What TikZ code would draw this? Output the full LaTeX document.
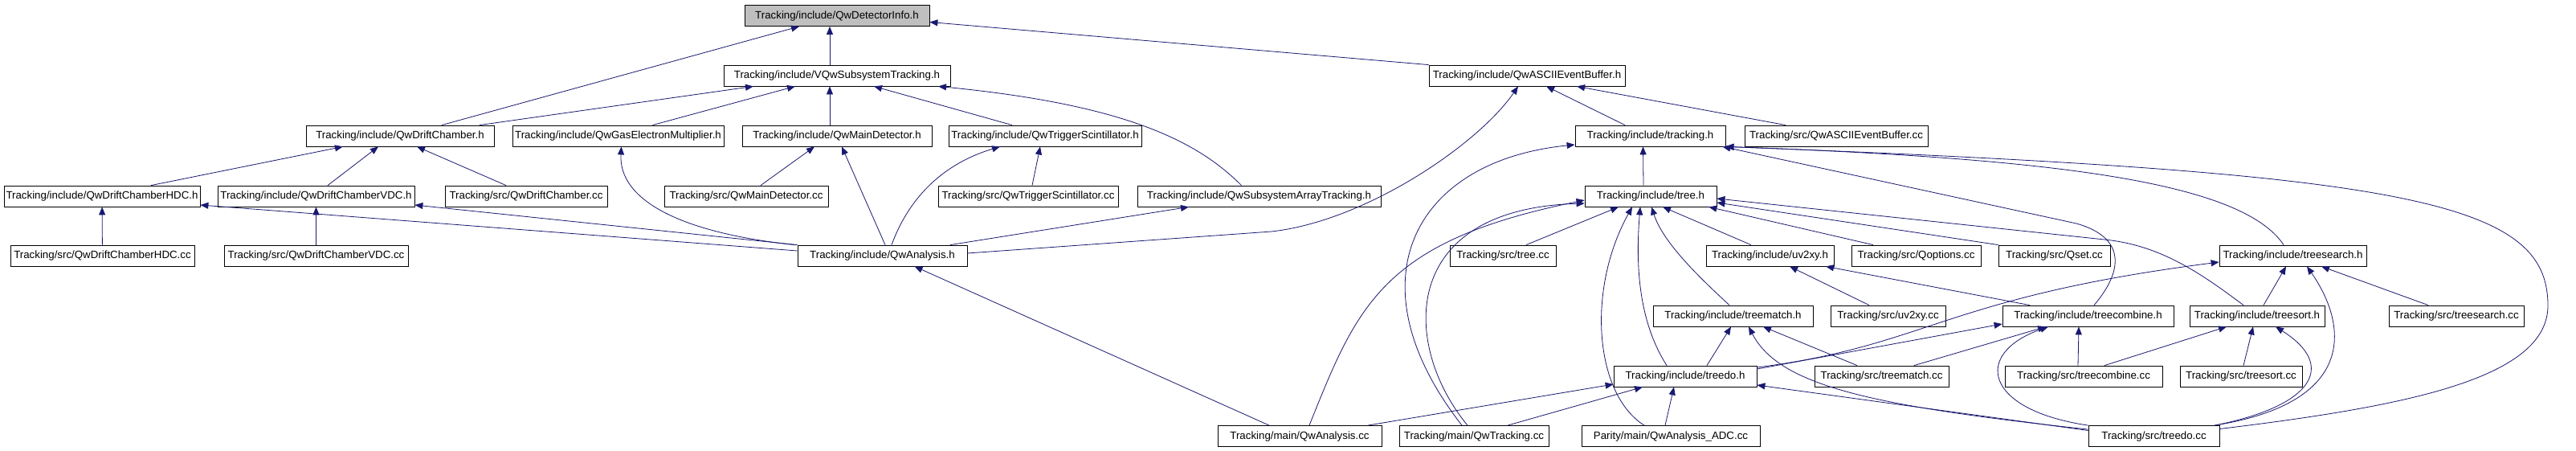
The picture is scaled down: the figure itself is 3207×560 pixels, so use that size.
\documentclass[tikz,border=0pt]{standalone}
\usepackage{fontspec}
\setmainfont{Liberation Sans}
\usepackage{tikz}
\usetikzlibrary{arrows.meta}
\definecolor{edgeNavy}{HTML}{191970}
\definecolor{rootGrey}{HTML}{BFBFBF}
\tikzset{
  file/.style = {draw=black, fill=white, line width=0.8pt, font=\fontsize{13.3}{15}\selectfont,
                 inner xsep=2.5pt, inner ysep=0pt, minimum height=26pt,
                 text height=9.5pt, text depth=2.5pt},
  root/.style = {fill=rootGrey},
  dep/.style  = {-{Triangle[length=10pt, width=8pt]}, draw=edgeNavy, line width=0.8pt}
}
\begin{document}
\begin{tikzpicture}[x=1pt, y=-1pt]
  \useasboundingbox[fill=white] (0,0) rectangle (3207,560);
  % headers and sources, one row per level
  \node[file, root, minimum width=230pt] (di) at (1042,19.5) {Tracking/include/QwDetectorInfo.h};
  \node[file, minimum width=282pt] (vst) at (1042,94) {Tracking/include/VQwSubsystemTracking.h};
  \node[file, minimum width=244pt] (aeb) at (1901,94) {Tracking/include/QwASCIIEventBuffer.h};
  \node[file, minimum width=234pt] (dc) at (498,169) {Tracking/include/QwDriftChamber.h};
  \node[file, minimum width=263pt] (gem) at (769.5,169) {Tracking/include/QwGasElectronMultiplier.h};
  \node[file, minimum width=236pt] (md) at (1042,169) {Tracking/include/QwMainDetector.h};
  \node[file, minimum width=240pt] (ts) at (1301,169) {Tracking/include/QwTriggerScintillator.h};
  \node[file, minimum width=187pt] (tr) at (2054.5,169) {Tracking/include/tracking.h};
  \node[file, minimum width=228pt] (aebcc) at (2286,169) {Tracking/src/QwASCIIEventBuffer.cc};
  \node[file, minimum width=244pt] (hdc) at (127,244) {Tracking/include/QwDriftChamberHDC.h};
  \node[file, minimum width=245pt] (vdc) at (393.5,244) {Tracking/include/QwDriftChamberVDC.h};
  \node[file, minimum width=202pt] (dccc) at (655,244) {Tracking/src/QwDriftChamber.cc};
  \node[file, minimum width=204pt] (mdcc) at (929,244) {Tracking/src/QwMainDetector.cc};
  \node[file, minimum width=224pt] (tscc) at (1280,244) {Tracking/src/QwTriggerScintillator.cc};
  \node[file, minimum width=303pt] (sat) at (1567.5,244) {Tracking/include/QwSubsystemArrayTracking.h};
  \node[file, minimum width=164pt] (tree) at (2055,244) {Tracking/include/tree.h};
  \node[file, minimum width=229pt] (hdccc) at (127.5,318) {Tracking/src/QwDriftChamberHDC.cc};
  \node[file, minimum width=229pt] (vdccc) at (393.5,318) {Tracking/src/QwDriftChamberVDC.cc};
  \node[file, minimum width=211pt] (qa) at (1098.5,318) {Tracking/include/QwAnalysis.h};
  \node[file, minimum width=132pt] (treecc) at (1871,318) {Tracking/src/tree.cc};
  \node[file, minimum width=159pt] (uv) at (2203.5,318) {Tracking/include/uv2xy.h};
  \node[file, minimum width=161pt] (qopt) at (2385.5,318) {Tracking/src/Qoptions.cc};
  \node[file, minimum width=139pt] (qset) at (2557.5,318) {Tracking/src/Qset.cc};
  \node[file, minimum width=183pt] (tsearch) at (2854.5,318) {Tracking/include/treesearch.h};
  \node[file, minimum width=199pt] (tmatch) at (2157.5,393) {Tracking/include/treematch.h};
  \node[file, minimum width=143pt] (uvcc) at (2350.5,393) {Tracking/src/uv2xy.cc};
  \node[file, minimum width=213pt] (tcomb) at (2599.5,393) {Tracking/include/treecombine.h};
  \node[file, minimum width=168pt] (tsort) at (2810,393) {Tracking/include/treesort.h};
  \node[file, minimum width=168pt] (tsearchcc) at (3058,393) {Tracking/src/treesearch.cc};
  \node[file, minimum width=178pt] (tdo) at (2098,468) {Tracking/include/treedo.h};
  \node[file, minimum width=167pt] (tmcc) at (2342.5,468) {Tracking/src/treematch.cc};
  \node[file, minimum width=196pt] (tccc) at (2594,468) {Tracking/src/treecombine.cc};
  \node[file, minimum width=152pt] (tsortcc) at (2790,468) {Tracking/src/treesort.cc};
  \node[file, minimum width=204pt] (qacc) at (1618,542.5) {Tracking/main/QwAnalysis.cc};
  \node[file, minimum width=186pt] (qwtrk) at (1835,542.5) {Tracking/main/QwTracking.cc};
  \node[file, minimum width=222pt] (adc) at (2080,542.5) {Parity/main/QwAnalysis\_ADC.cc};
  \node[file, minimum width=163pt] (tdocc) at (2681.5,542.5) {Tracking/src/treedo.cc};

  % include edges, arrow at the included file
  \draw[dep] ([xshift=-9pt]vst.north) -- ([xshift=-9pt]di.south);
  \draw[dep] ([xshift=52pt]dc.north) -- ([xshift=-47pt]di.south);
  \draw[dep] (aeb.north west) -- ([yshift=-8pt]di.east);
  \draw[dep] ([xshift=99pt]dc.north) -- ([xshift=-104pt]vst.south);
  \draw[dep] ([xshift=43pt]gem.north) -- ([xshift=-52pt]vst.south);
  \draw[dep] ([xshift=-9pt]md.north) -- ([xshift=-9pt]vst.south);
  \draw[dep] ([xshift=-41pt]ts.north) -- ([xshift=46pt]vst.south);
  \draw[dep] ([xshift=-22pt]sat.north) .. controls (1490,175) and (1400,130) .. ([xshift=126pt]vst.south);
  \draw[dep] ([xshift=-31.5pt]tr.north) -- ([xshift=24pt]aeb.south);
  \draw[dep] ([xshift=-63pt]aebcc.north) -- ([xshift=62pt]aeb.south);
  \draw[dep] ([yshift=3pt]qa.east) -- (1583,288) .. controls (1700,275) and (1840,180) .. ([xshift=-11pt]aeb.south);
  \draw[dep] ([xshift=61pt]hdc.north) -- ([xshift=-71pt]dc.south);
  \draw[dep] ([xshift=14.5pt]vdc.north) -- ([xshift=-27pt]dc.south);
  \draw[dep] ([xshift=-25pt]dccc.north) -- ([xshift=21pt]dc.south);
  \draw[dep] (hdccc) -- (hdc);
  \draw[dep] (vdccc) -- (vdc);
  \draw[dep] ([yshift=6pt]qa.west) -- ([yshift=-11pt]hdc.east);
  \draw[dep] (qa.north west) -- ([yshift=-11pt]vdc.east);
  \draw[dep] ([xshift=-3pt]qa.north west) .. controls (850,290) and (770,250) .. ([xshift=4pt]gem.south);
  \draw[dep] ([xshift=18pt]mdcc.north) -- ([xshift=-28pt]md.south);
  \draw[dep] ([xshift=3.5pt]qa.north) -- ([xshift=6pt]md.south);
  \draw[dep] ([xshift=5pt]tscc.north) -- ([xshift=-6pt]ts.south);
  \draw[dep] ([xshift=11.5pt]qa.north) .. controls (1130,250) and (1170,205) .. ([xshift=-56pt]ts.south);
  \draw[dep] ([xshift=84.5pt]qa.north) -- ([xshift=-87.5pt]sat.south);
  \draw[dep] ([xshift=-38pt]qacc.north) -- ([xshift=40pt]qa.south);
  \draw[dep] ([xshift=-9pt]tree.north) -- ([xshift=-9pt]tr.south);
  \draw[dep] ([xshift=-15pt]qwtrk.north) .. controls (1680,350) and (1760,200) .. ([yshift=-11pt]tr.west);
  \draw[dep] ([xshift=-11.5pt]tsearch.north) .. controls (2790,225) and (2550,197) .. (tr.south east);
  \draw[dep] ([yshift=9pt]tdocc.east) .. controls (3000,505) and (3172,470) .. (3172,380)
             .. controls (3172,250) and (3000,215) .. (tr.south east);
  \draw[dep] ([xshift=7.5pt]tcomb.north) .. controls (2645,335) and (2645,295) .. (2585,278) -- ([xshift=-4pt]tr.south east);
  \draw[dep] ([xshift=29pt]treecc.north) -- ([xshift=-40pt]tree.south);
  \draw[dep] ([xshift=-23.5pt]uv.north) -- ([xshift=15pt]tree.south);
  \draw[dep] ([xshift=-53.5pt]qopt.north) -- ([xshift=-10pt]tree.south east);
  \draw[dep] (qset.north west) -- ([yshift=-8pt]tree.east);
  \draw[dep] ([xshift=-17pt]tsort.north) .. controls (2740,340) and (2690,305) .. (2620,298) -- ([yshift=-3pt]tree.east);
  \draw[dep] ([xshift=-23pt]tdo.north) .. controls (2040,400) and (2036,330) .. ([xshift=-13pt]tree.south);
  \draw[dep] ([xshift=-4.5pt]tmatch.north) .. controls (2110,340) and (2070,300) .. ([xshift=1pt]tree.south);
  \draw[dep] ([xshift=-33pt]adc.north) .. controls (1985,490) and (1975,360) .. ([xshift=-23pt]tree.south);
  \draw[dep] ([xshift=12pt]qacc.north) .. controls (1690,380) and (1720,300) .. ([yshift=-5pt]tree.west);
  \draw[dep] ([xshift=-8pt]qwtrk.north) .. controls (1745,430) and (1740,260) .. ([yshift=-9pt]tree.west);
  \draw[dep] ([xshift=-23.5pt]uvcc.north) -- ([xshift=24.5pt]uv.south);
  \draw[dep] ([xshift=-72.5pt]tcomb.north) -- ([xshift=69.5pt]uv.south);
  \draw[dep] ([xshift=27pt]tdo.north) -- ([xshift=-2.5pt]tmatch.south);
  \draw[dep] ([xshift=-30.5pt]tmcc.north) -- ([xshift=37.5pt]tmatch.south);
  \draw[dep] ([yshift=-5pt]tdocc.north west) .. controls (2330,505) and (2215,480) .. ([xshift=19.5pt]tmatch.south);
  \draw[dep] ([yshift=9pt]tdo.east) -- ([yshift=-10pt]tcomb.west);
  \draw[dep] ([xshift=40.5pt]tmcc.north) -- ([xshift=-52.5pt]tcomb.south);
  \draw[dep] ([xshift=-7pt]tccc.north) -- ([xshift=-11.5pt]tcomb.south);
  \draw[dep] (tdocc.north west) .. controls (2470,510) and (2455,440) .. ([xshift=-49.5pt]tcomb.south);
  \draw[dep] ([yshift=11pt]tdo.east) .. controls (2400,430) and (2420,370) .. ([yshift=-8pt]tsearch.west);
  \draw[dep] ([xshift=8pt]tsort.north) -- ([xshift=-8.5pt]tsearch.south);
  \draw[dep] ([xshift=75.5pt]tdocc.north) .. controls (2940,500) and (2920,400) .. ([xshift=17.5pt]tsearch.south);
  \draw[dep] ([xshift=-35pt]tsearchcc.north) -- ([xshift=35.5pt]tsearch.south);
  \draw[dep] ([xshift=26pt]tccc.north) -- ([xshift=-38pt]tsort.south);
  \draw[dep] ([xshift=3pt]tsortcc.north) -- ([xshift=-5pt]tsort.south);
  \draw[dep] ([xshift=75.5pt]tdocc.north) .. controls (2880,505) and (2910,455) .. ([xshift=23pt]tsort.south);
  \draw[dep] ([xshift=85pt]qacc.north) -- ([yshift=-10pt]tdo.west);
  \draw[dep] ([xshift=42pt]qwtrk.north) -- ([xshift=-53pt]tdo.south);
  \draw[dep] ([xshift=-7pt]adc.north) -- ([xshift=-14pt]tdo.south);
  \draw[dep] ([yshift=7pt]tdocc.west) -- ([yshift=-11pt]tdo.east);
\end{tikzpicture}
\end{document}
